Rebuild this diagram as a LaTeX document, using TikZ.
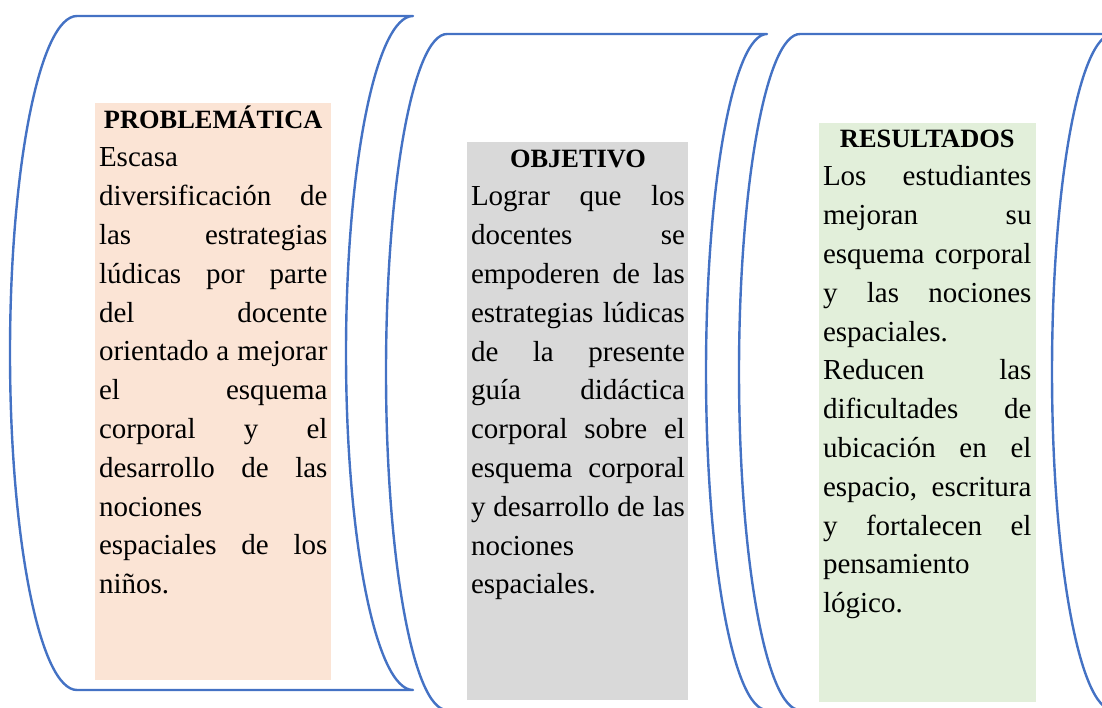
\documentclass[tikz,border=0pt]{standalone}
\usepackage{fontspec}
\setmainfont{Liberation Serif}[Ligatures=CommonOff]
\definecolor{scrollblue}{HTML}{4472C4}
\definecolor{probcol}{HTML}{FBE4D5}
\definecolor{objcol}{HTML}{D9D9D9}
\definecolor{rescol}{HTML}{E2EFDA}
% forced line ends, justified, no hyphens
\tolerance=10000 \hbadness=10000 \hfuzz=6pt \hyphenpenalty=10000
\newcommand{\boxtitle}[1]{{\centering\bfseries\fontsize{26.4}{38.8}\selectfont #1\par}}

\begin{document}
\begin{tikzpicture}[
    x=1pt, y=-1pt,
    scroll/.style={draw=scrollblue, line width=2.4pt, line join=round},
    body/.style={inner sep=0pt, anchor=base, align=justify,
        font=\fontsize{29}{38.8}\selectfont},
]
% coordinates are pixels from the top left corner
\useasboundingbox (0,0) rectangle (1102,707);
\clip (0,0) rectangle (1102,707);

% scrolls: top edge, concave right arc, bottom edge, convex left arc
\draw[scroll] (77,16) -- (413,16)
    arc[start angle=90, end angle=270, x radius=67pt, y radius=337pt]
    -- (77,690)
    arc[start angle=270, end angle=90, x radius=67pt, y radius=337pt];
\draw[scroll] (447,34) -- (767,34)
    arc[start angle=90, end angle=270, x radius=61pt, y radius=338pt]
    -- (447,710)
    arc[start angle=270, end angle=90, x radius=61pt, y radius=338pt];
\draw[scroll] (800,34) -- (1113,34)
    arc[start angle=90, end angle=270, x radius=61pt, y radius=338pt]
    -- (800,710)
    arc[start angle=270, end angle=90, x radius=61pt, y radius=338pt];

% shaded text boxes
\fill[probcol] (95,103) rectangle (331,680);
\fill[objcol] (467,142) rectangle (688,700);
\fill[rescol] (819,123) rectangle (1036,702);

% texts, placed at the baseline of the title
\node[body, text width=228.5pt] (prob) at (213.25,128) {\boxtitle{PROBLEMÁTICA}%
    Escasa \linebreak diversificación de \linebreak las estrategias \linebreak
    lúdicas por parte \linebreak del docente \linebreak orientado a mejorar \linebreak
    el esquema \linebreak corporal y el \linebreak desarrollo de las \linebreak
    nociones \linebreak espaciales de los \linebreak niños.};
\node[body, text width=214pt] (obj) at (578,167) {\boxtitle{OBJETIVO}%
    Lograr que los \linebreak docentes se \linebreak empoderen de las \linebreak
    estrategias lúdicas \linebreak de la presente \linebreak guía didáctica \linebreak
    corporal sobre el \linebreak esquema corporal \linebreak y desarrollo de las \linebreak
    nociones \linebreak espaciales.};
\node[body, text width=208.5pt] (res) at (927.25,147) {\boxtitle{RESULTADOS}%
    Los estudiantes \linebreak mejoran su \linebreak esquema corporal \linebreak
    y las nociones \linebreak espaciales.\par
    Reducen las \linebreak dificultades de \linebreak ubicación en el \linebreak
    espacio, escritura \linebreak y fortalecen el \linebreak pensamiento \linebreak
    lógico.};

\end{tikzpicture}
\end{document}
